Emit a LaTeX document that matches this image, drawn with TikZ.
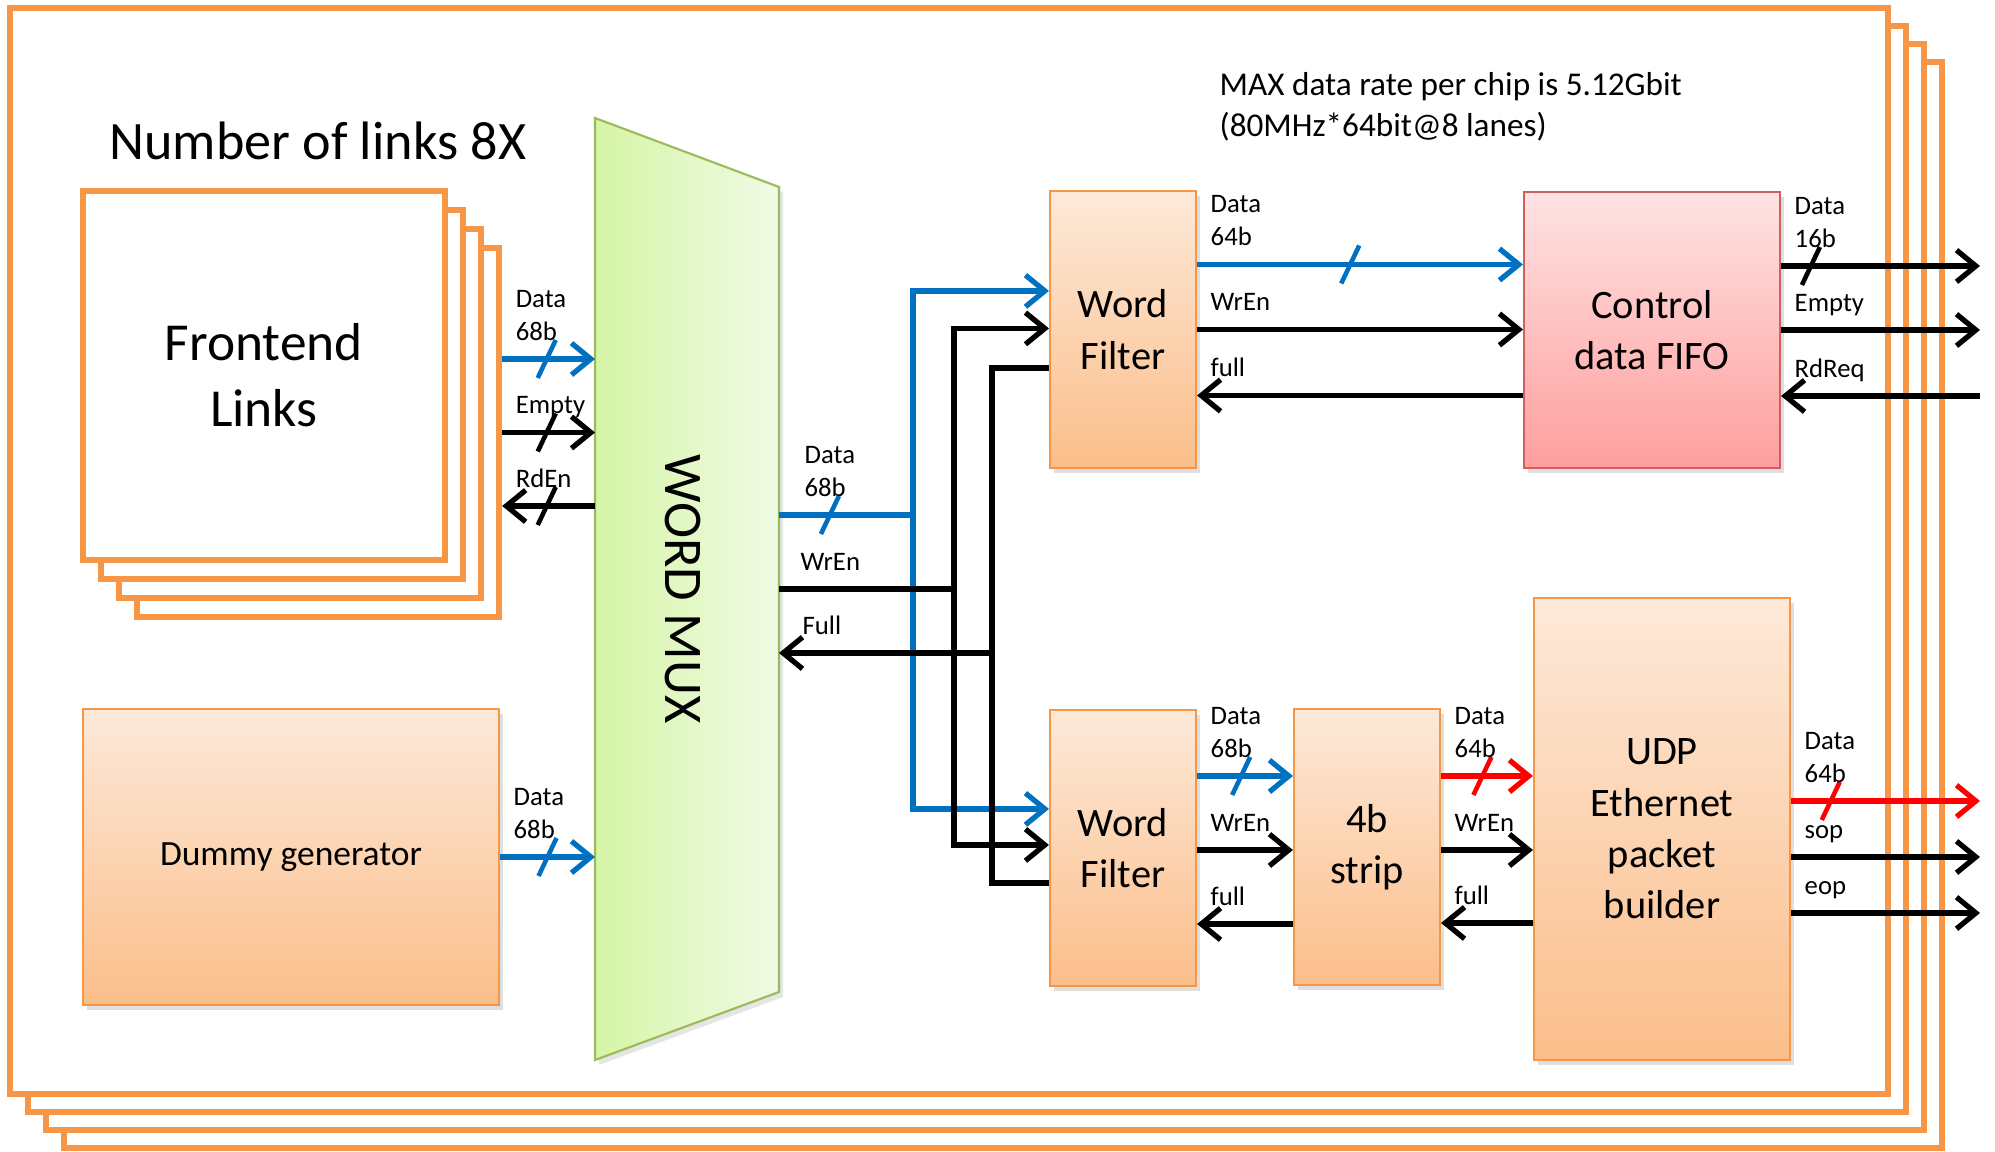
\documentclass[tikz,border=0pt]{standalone}
\usepackage{fontspec}
\setmainfont{Carlito}
\usetikzlibrary{arrows.meta,positioning,calc,shadows,decorations.markings}
\definecolor{frameorange}{HTML}{F79646}
\definecolor{busblue}{HTML}{0070C0}
\definecolor{busred}{HTML}{FF0000}
\definecolor{boxedge}{HTML}{F79646}
\definecolor{boxtop}{HTML}{FDE9D9}
\definecolor{boxbot}{HTML}{FBBE8A}
\definecolor{fifoedge}{HTML}{D0605E}
\definecolor{fifotop}{HTML}{FFE3E3}
\definecolor{fifobot}{HTML}{FF9E9E}
\definecolor{muxedge}{HTML}{9BBB59}
\definecolor{muxleft}{HTML}{D5F5A6}
\definecolor{muxright}{HTML}{F0FBE5}

\begin{document}
\begin{tikzpicture}[
  outerframe/.style={draw=frameorange,line width=1.7pt,fill=white},
  stack/.style={rectangle,draw=frameorange,line width=1.8pt,fill=white,minimum width=3.62cm,minimum height=3.69cm,align=center,font=\fontsize{15.2}{18.8}\selectfont},
  blk/.style={rectangle,draw=boxedge,line width=0.6pt,top color=boxtop,bottom color=boxbot,inner sep=0pt,align=center,font=\fontsize{11.5}{14.6}\selectfont,drop shadow={shadow xshift=0.04cm,shadow yshift=-0.05cm,opacity=0.25}},
  fifoblk/.style={blk,draw=fifoedge,top color=fifotop,bottom color=fifobot},
  muxshape/.style={draw=muxedge,line width=0.6pt,left color=muxleft,right color=muxright,drop shadow={shadow xshift=0.04cm,shadow yshift=-0.05cm,opacity=0.2}},
  wire/.style={line width=1.5pt},
  arr/.style={wire,-{Straight Barb[length=5.5pt,width=9pt]}},
  rarr/.style={wire,{Straight Barb[length=5.5pt,width=9pt]}-},
  bus/.style={postaction={decorate,decoration={markings,mark=at position #1 with {\draw[-,line width=1.3pt] (-0.09,-0.19)--(0.09,0.19);}}}},
  lbl/.style={font=\fontsize{7.6}{9.4}\selectfont,text=black,align=left,inner sep=0pt,text depth=0pt,anchor=south west,xshift=0.11cm,yshift=0.16cm}
]
\useasboundingbox (0,0) rectangle (19.95,11.52);

% stacked chip frames
\foreach \i in {3,2,1,0}
  \draw[outerframe,shift={(0.18*\i,-0.18*\i)}] (0.10,0.58) rectangle (18.88,11.44);

% frontend links, 8 copies
\coordinate (fepos) at (2.64,7.765);
\foreach \i in {3,2,1}
  \node[stack] (fe\i) at ([shift={(0.18*\i,-0.19*\i)}]fepos) {};
\node[stack] (fe) at (fepos) {Frontend\\Links};
\node[font=\fontsize{15.4}{18}\selectfont,anchor=base west,inner sep=0pt] (nlinks) at ([shift={(0.29,0.28)}]fe.north west) {Number of links 8X};

\node[blk,minimum width=4.16cm,minimum height=2.96cm,font=\fontsize{10.1}{12}\selectfont] (dummy) at (2.91,2.95) {Dummy generator};

% word mux
\node[inner sep=0pt,outer sep=0pt,minimum width=1.84cm,minimum height=9.42cm] (mux) at (6.87,5.63) {};
\draw[muxshape] (mux.north west) -- ([yshift=-0.69cm]mux.north east) -- ([yshift=0.68cm]mux.south east) -- (mux.south west) -- cycle;
\node[rotate=-90,font=\fontsize{15.5}{18}\selectfont] (muxlbl) at ([xshift=-0.04cm]mux.center) {WORD MUX};

% blocks
\node[blk,minimum width=1.46cm,minimum height=2.77cm] (wf1) at (11.23,8.225) {Word\\Filter};
\node[fifoblk,minimum width=2.56cm,minimum height=2.76cm] (fifo) at (16.52,8.22) {Control\\data FIFO};
\node[blk,minimum width=1.46cm,minimum height=2.76cm] (wf2) at (11.23,3.04) {Word\\Filter};
\node[blk,minimum width=1.46cm,minimum height=2.76cm] (strip) at (13.67,3.05) {4b\\strip};
\node[blk,minimum width=2.56cm,minimum height=4.62cm] (udp) at (16.62,3.23) {UDP\\Ethernet\\packet\\builder};

\node[font=\fontsize{9.45}{11.6}\selectfont,align=left,anchor=west,inner sep=0pt] (rate) at (12.19,10.45) {MAX data rate per chip is 5.12Gbit\\(80MHz*64bit@8 lanes)};

\coordinate (outR) at (19.80,0);

% frontend -> mux
\draw[arr,bus=0.48,busblue] ([yshift=0.735cm]fe3.east) -- ([yshift=0.735cm]fe3.east -| mux.west) node[lbl,at start] {Data\\68b};
\draw[arr,bus=0.48] (fe3.east) -- (fe3.east -| mux.west) node[lbl,at start] {Empty};
\draw[rarr,bus=0.48] ([yshift=-0.735cm]fe3.east) -- ([yshift=-0.735cm]fe3.east -| mux.west) node[lbl,at start] {RdEn};
\draw[arr,bus=0.5,busblue] (dummy.east) -- (dummy.east -| mux.west) node[lbl,at start] {Data\\68b};

% mux -> word filters
\coordinate (dsplit) at ([shift={(1.34,0.74)}]mux.east);
\coordinate (wsplit) at ([xshift=1.75cm]mux.east);
\coordinate (fsplit) at ([shift={(2.13,-0.64)}]mux.east);
\draw[wire,bus=0.38,busblue] (mux.east |- dsplit) -- (dsplit) node[lbl,at start,xshift=0.12cm] {Data\\68b};
\draw[arr,busblue] (dsplit) |- ([yshift=-1.01cm]wf1.north west);
\draw[arr,busblue] (dsplit) |- ([yshift=-1.0cm]wf2.north west);
\draw[wire] (mux.east) -- (wsplit) node[lbl,at start,xshift=0.08cm] {WrEn};
\draw[arr] (wsplit) |- ([yshift=-1.385cm]wf1.north west);
\draw[arr] (wsplit) |- ([yshift=-1.36cm]wf2.north west);
\draw[rarr] (mux.east |- fsplit) -- (fsplit) node[lbl,at start,xshift=0.1cm] {Full};
\draw[wire] (fsplit) |- ([yshift=-1.78cm]wf1.north west);
\draw[wire] (fsplit) |- ([yshift=-1.74cm]wf2.north west);

% word filter -> control fifo
\draw[arr,bus=0.47,busblue] ([yshift=0.65cm]wf1.east) -- ([yshift=0.65cm]wf1.east -| fifo.west) node[lbl,at start] {Data\\64b};
\draw[arr] (wf1.east) -- (wf1.east -| fifo.west) node[lbl,at start] {WrEn};
\draw[rarr] ([yshift=-0.66cm]wf1.east) -- ([yshift=-0.66cm]wf1.east -| fifo.west) node[lbl,at start] {full};
\draw[arr,bus=0.15] ([yshift=0.64cm]fifo.east) -- ([yshift=0.64cm]fifo.east -| outR) node[lbl,at start] {Data\\16b};
\draw[arr] (fifo.east) -- (fifo.east -| outR) node[lbl,at start] {Empty};
\draw[rarr] ([yshift=-0.66cm]fifo.east) -- ([yshift=-0.66cm]fifo.east -| outR) node[lbl,at start] {RdReq};

% word filter -> 4b strip -> udp
\draw[arr,bus=0.46,busblue] ([yshift=0.72cm]wf2.east) -- ([yshift=0.72cm]wf2.east -| strip.west) node[lbl,at start] {Data\\68b};
\draw[arr] ([yshift=-0.02cm]wf2.east) -- ([yshift=-0.02cm]wf2.east -| strip.west) node[lbl,at start] {WrEn};
\draw[rarr] ([yshift=-0.76cm]wf2.east) -- ([yshift=-0.76cm]wf2.east -| strip.west) node[lbl,at start] {full};
\draw[arr,bus=0.45,busred] ([yshift=0.71cm]strip.east) -- ([yshift=0.71cm]strip.east -| udp.west) node[lbl,at start] {Data\\64b};
\draw[arr] ([yshift=-0.03cm]strip.east) -- ([yshift=-0.03cm]strip.east -| udp.west) node[lbl,at start] {WrEn};
\draw[rarr] ([yshift=-0.76cm]strip.east) -- ([yshift=-0.76cm]strip.east -| udp.west) node[lbl,at start] {full};
\draw[arr,bus=0.21,busred] ([yshift=0.28cm]udp.east) -- ([yshift=0.28cm]udp.east -| outR) node[lbl,at start] {Data\\64b};
\draw[arr] ([yshift=-0.28cm]udp.east) -- ([yshift=-0.28cm]udp.east -| outR) node[lbl,at start] {sop};
\draw[arr] ([yshift=-0.84cm]udp.east) -- ([yshift=-0.84cm]udp.east -| outR) node[lbl,at start] {eop};
\end{tikzpicture}
\end{document}
